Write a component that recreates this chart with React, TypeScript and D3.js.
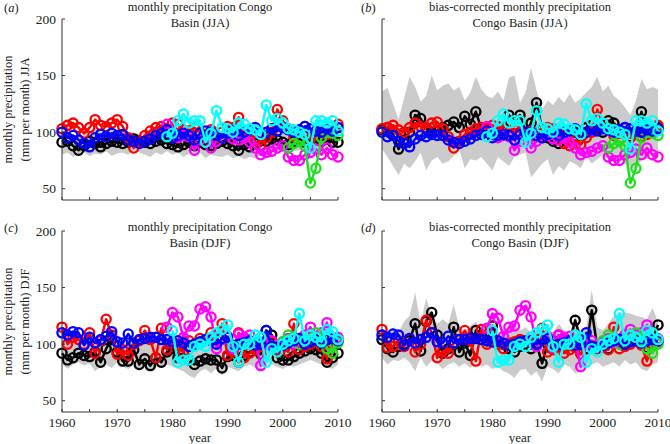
import React from "react";
import * as d3 from "d3";

// ---------- categories / ticks ----------
const YEAR_START = 1960;
const YEAR_END = 2010;
const X_TICKS = [1960, 1965, 1970, 1975, 1980, 1985, 1990, 1995, 2000, 2005, 2010];
const X_LABELS = [1960, 1970, 1980, 1990, 2000, 2010];
const Y_TICKS = [50, 100, 150, 200];

// series start years
const MAG_START = 1979;
const CYAN_START_JJA = 1979;
const CYAN_START_DJF = 1980;
const GREEN_START_JJA = 2001;
const GREEN_START_DJF = 2000;

// ---------- panel (a): JJA ----------
const aBandLo = [80,82,78,80,82,79,81,80,83,79, 81,82,80,84,82,80,78,82,80,83, 80,82,78,81,79,82,77,80,79,78, 80,77,79,76,78,77,80,78,82,84, 82,80,83,84,82,83,85,84,82,85, 83];
const aBandHi = [100,102,98,96,99,101,103,100,102,104, 102,101,99,100,98,101,103,104,102,103, 100,99,101,104,100,102,99,98,101,100, 99,97,100,98,96,99,101,103,104,102, 100,101,103,104,102,104,105,103,104,102, 103];
const aBlack = [91,92,88,84,88,92,90,87,90,92, 91,90,91,94,92,91,90,92,93,90, 89,87,89,91,88,91,89,88,90,92, 90,88,84,89,87,90,88,92,94,93, 91,89,92,94,91,93,95,92,94,91, 91];
const aRed = [103,106,108,104,99,104,111,106,105,108, 111,105,95,86,91,97,101,104,105,103, 108,107,102,101,104,100,97,102,95,100, 105,104,113,96,100,92,88,95,100,120, 110,103,96,100,105,94,100,95,98,100, 107];
const aBlue = [100,95,97,93,90,87,95,98,96,99, 97,98,93,92,90,92,94,97,99,102, 95,97,99,97,93,99,101,100,97,95, 99,101,97,100,102,104,99,100,103,101, 104,102,100,102,105,103,101,100,103,101, 104];
const aMagenta = [107,100,95,97,96,84,93,97,86,92, 95,98,94,93,95,91,86,80,82,83, 86,88,78,75,75,80,82,85,80,86, 80,78];
const aCyan = [96,99,110,116,108,110,110,91,99,119, 104,103,100,108,107,103,102,98,124,110, 112,108,103,102,100,98,86,110,110,108, 110,101];
const aGreen = [86,90,92,88,55,68,95,100,99,97];

// ---------- panel (b): bias-corrected JJA ----------
const bBandLo = [85,78,70,62,72,68,74,82,66,75, 78,72,74,79,84,68,76,75,78,72, 66,78,74,70,78,80,82,60,66,72, 76,62,70,66,74,72,68,78,72,76, 80,76,78,80,72,70,66,76,76,80, 80];
const bBandHi = [136,139,125,111,130,149,140,127,132,150, 137,141,143,137,140,128,135,149,138,132, 130,136,128,148,150,126,135,157,137,120, 128,124,131,126,134,126,130,135,140,149, 136,141,132,128,122,115,128,147,138,140, 138];
const bBlack = [102,104,98,85,93,100,115,112,103,100, 101,104,106,109,104,114,107,118,103,100, 98,100,104,115,110,115,100,108,126,103, 95,92,90,98,102,100,97,104,106,103, 100,110,108,102,98,96,100,118,103,100, 104];
const bRed = [103,104,106,102,100,104,108,105,104,108, 109,103,96,86,92,98,100,103,104,103, 106,105,101,100,103,100,97,101,96,99, 104,103,100,90,88,93,89,95,100,120, 108,102,97,99,104,95,100,96,98,100, 106];
const bBlue = [100,96,97,92,90,87,94,97,96,98, 97,97,93,91,90,92,94,97,98,101, 95,97,98,97,93,98,100,100,97,95, 98,100,97,100,101,103,99,100,102,101, 103,102,100,102,104,103,101,100,102,101, 103];
const bMagenta = [105,100,95,97,96,84,92,97,86,92, 95,97,94,93,95,91,86,80,82,83, 86,88,78,75,75,80,82,85,80,86, 80,78];
const bCyan = [96,99,110,116,108,110,110,91,99,119, 104,103,100,108,107,103,102,98,125,110, 112,108,103,102,100,98,85,110,110,108, 110,101];
const bGreen = [86,90,92,88,55,68,95,100,99,97];

// ---------- panel (c): DJF ----------
const cBandLo = [82,78,82,84,81,83,76,80,82,79, 84,80,78,82,77,80,76,80,79,82, 80,78,76,72,70,76,78,74,79,72, 80,78,76,80,82,79,78,84,82,80, 78,81,80,82,84,86,84,82,80,78, 82];
const cBandHi = [104,102,105,103,100,106,102,103,108,106, 102,100,104,101,103,104,105,103,104,102, 103,100,102,99,100,101,103,102,100,104, 104,100,101,103,102,101,100,110,106,100, 102,103,104,106,104,105,106,104,103,105, 104];
const cBlack = [92,86,88,92,90,89,93,84,96,104, 93,85,85,95,82,87,81,88,84,93, 96,88,92,86,82,85,87,86,86,79, 89,90,84,90,93,95,91,112,108,88, 86,86,89,92,94,96,95,92,84,88, 92];
const cRed = [115,100,106,104,100,110,92,103,122,108, 91,95,90,100,103,112,104,88,114,95, 102,100,92,103,100,105,104,110,105,118, 90,93,110,88,92,95,98,100,102,95, 97,93,118,95,98,100,104,98,87,100, 103];
const cBlue = [110,108,111,110,99,106,101,104,107,111, 102,101,109,101,104,105,106,106,104,104, 102,103,101,98,100,102,104,103,100,105, 106,99,100,101,103,99,100,112,98,97, 99,101,103,105,100,102,104,101,104,105, 103];
const cMagenta = [115,128,124,106,116,116,131,133,124,96, 104,107,96,109,106,108,102,81,100,103, 97,102,105,100,104,108,115,107,110,119, 105,106];
const cCyan = [112,84,86,86,98,100,98,106,110,113, 117,98,84,100,100,108,106,84,96,93, 100,103,105,127,103,108,106,102,113,111, 104];
const cGreen = [102,108,106,100,104,108,110,104,96,92,101];

// ---------- panel (d): bias-corrected DJF ----------
const dBandLo = [88,82,86,85,88,84,76,88,80,85, 83,78,82,84,80,83,79,84,80,82, 78,80,76,74,70,77,78,72,76,67, 80,78,74,82,80,74,76,80,82,84, 80,82,84,80,86,82,84,78,76,82, 84];
const dBandHi = [112,108,115,110,120,125,146,118,141,125, 118,122,118,135,115,112,116,120,113,118, 122,110,108,112,118,112,115,110,113,108, 112,110,118,112,108,125,110,115,148,115, 112,118,125,128,128,127,125,124,122,132, 120];
const dBlack = [104,96,93,98,100,103,118,94,120,128, 108,92,96,115,93,101,90,112,108,103, 116,102,100,96,93,98,101,96,100,83, 100,103,98,104,102,121,104,96,130,97, 99,96,102,104,100,103,106,101,97,104, 117];
const dRed = [113,97,98,103,98,105,93,100,121,110, 88,94,92,101,104,112,103,85,113,100, 102,100,96,101,102,104,102,106,104,114, 93,95,108,92,95,97,91,100,99,96, 97,95,115,96,98,100,104,99,85,100, 102];
const dBlue = [108,106,109,108,99,105,101,104,106,110, 102,101,107,101,104,104,105,105,104,103, 102,103,101,99,100,102,103,103,100,104, 105,99,100,101,103,99,100,110,98,97, 99,101,103,104,100,102,103,101,103,104, 103];
const dMagenta = [114,127,123,107,115,116,130,134,124,98, 104,107,97,108,106,107,103,80,100,103, 97,102,105,101,104,108,113,107,110,117, 104,105];
const dCyan = [112,84,86,86,98,100,98,106,110,113, 117,98,84,100,100,108,106,84,96,93, 100,103,105,127,103,108,106,102,112,110, 104];
const dGreen = [103,108,106,100,104,108,110,104,96,92,100];

// ---------- styles ----------
const FONT = "'Liberation Serif', 'Times New Roman', serif";
const COL = {
  black: "#000000",
  red: "#ff0000",
  magenta: "#ff00ff",
  green: "#1fe01f",
  blue: "#0000ff",
  cyan: "#00ffff",
  band: "#cbcbcb",
};

type Series = { values: number[]; start: number; color: string };

type PanelProps = {
  x0: number;
  y0: number;
  w: number;
  h: number;
  letter: string;
  title: string[];
  titleY: number[];
  letterY: number;
  letterX: number;
  showY: boolean;
  showX: boolean;
  yLabel?: string[];
  bandLo: number[];
  bandHi: number[];
  series: Series[];
};

function Panel(p: PanelProps) {
  const x = d3.scaleLinear().domain([YEAR_START, YEAR_END]).range([p.x0, p.x0 + p.w]);
  const y = d3.scaleLinear().domain([40, 200]).range([p.y0 + p.h, p.y0]);
  const area = d3
    .area<number>()
    .x((_, i) => x(YEAR_START + i))
    .y0((_, i) => y(p.bandLo[i]))
    .y1((_, i) => y(p.bandHi[i]));
  const cx = p.x0 + p.w / 2;
  const cy = p.y0 + p.h / 2;
  return (
    <g>
      <path d={area(p.bandLo) || ""} fill={COL.band} stroke="none" />
      {p.series.map((s, si) => {
        const line = d3
          .line<number>()
          .x((_, i) => x(s.start + i))
          .y((d) => y(d));
        return (
          <g key={si}>
            <path d={line(s.values) || ""} fill="none" stroke={s.color} strokeWidth={2.5} strokeLinejoin="round" />
            {s.values.map((v, i) => (
              <circle key={i} cx={x(s.start + i)} cy={y(v)} r={4.6} fill="none" stroke={s.color} strokeWidth={2.3} />
            ))}
          </g>
        );
      })}
      {/* axes */}
      <line x1={p.x0} x2={p.x0} y1={p.y0} y2={p.y0 + p.h} stroke="#333" strokeWidth={1} />
      <line x1={p.x0} x2={p.x0 + p.w} y1={p.y0 + p.h} y2={p.y0 + p.h} stroke="#333" strokeWidth={1} />
      {X_TICKS.map((t) => (
        <line key={t} x1={x(t)} x2={x(t)} y1={p.y0 + p.h} y2={p.y0 + p.h - 3} stroke="#333" strokeWidth={1} />
      ))}
      {Y_TICKS.map((t) => (
        <line key={t} x1={p.x0} x2={p.x0 + 3} y1={y(t)} y2={y(t)} stroke="#333" strokeWidth={1} />
      ))}
      {p.showY &&
        Y_TICKS.map((t) => (
          <text key={t} x={p.x0 - 6} y={y(t) + 4.5} textAnchor="end" fontSize={13.5} fontFamily={FONT} fill="#222">
            {t}
          </text>
        ))}
      {p.showX &&
        X_LABELS.map((t) => (
          <text key={t} x={x(t)} y={p.y0 + p.h + 15} textAnchor="middle" fontSize={13.5} fontFamily={FONT} fill="#222">
            {t}
          </text>
        ))}
      {p.showX && (
        <text x={cx} y={p.y0 + p.h + 30} textAnchor="middle" fontSize={13} fontFamily={FONT} fill="#222">
          year
        </text>
      )}
      {p.title.map((t, i) => (
        <text key={i} x={cx} y={p.titleY[i]} textAnchor="middle" fontSize={12.5} fontFamily={FONT} fill="#222">
          {t}
        </text>
      ))}
      <text x={p.letterX} y={p.letterY} fontSize={12.5} fontFamily={FONT} fill="#222">
        (<tspan fontStyle="italic">{p.letter}</tspan>)
      </text>
      {p.yLabel &&
        p.yLabel.map((t, i) => (
          <text
            key={i}
            transform={`translate(${12 + i * 17}, ${cy}) rotate(-90)`}
            textAnchor="middle"
            fontSize={12.5}
            fontFamily={FONT}
            fill="#222"
          >
            {t}
          </text>
        ))}
    </g>
  );
}

function mk(black: number[], red: number[], mag: number[], green: number[], greenStart: number, blue: number[], cyan: number[], cyanStart: number): Series[] {
  return [
    { values: black, start: YEAR_START, color: COL.black },
    { values: red, start: YEAR_START, color: COL.red },
    { values: mag, start: MAG_START, color: COL.magenta },
    { values: green, start: greenStart, color: COL.green },
    { values: blue, start: YEAR_START, color: COL.blue },
    { values: cyan, start: cyanStart, color: COL.cyan },
  ];
}

export default function App() {
  const W = 276;
  const H = 181;
  return (
    <svg width={670} height={444} style={{ position: "absolute", left: 0, top: 0, background: "#fff" }}>
      <rect x={0} y={0} width={670} height={444} fill="#fff" />
      <Panel
        x0={62} y0={19} w={W} h={H}
        letter="a" letterX={4} letterY={12}
        title={["monthly precipitation Congo", "Basin (JJA)"]} titleY={[11, 27]}
        showY showX={false}
        yLabel={["monthly precipitation", "(mm per month) JJA"]}
        bandLo={aBandLo} bandHi={aBandHi}
        series={mk(aBlack, aRed, aMagenta, aGreen, GREEN_START_JJA, aBlue, aCyan, CYAN_START_JJA)}
      />
      <Panel
        x0={382} y0={19} w={W} h={H}
        letter="b" letterX={361} letterY={12}
        title={["bias-corrected monthly precipitation", "Congo Basin (JJA)"]} titleY={[11, 27]}
        showY={false} showX={false}
        bandLo={bBandLo} bandHi={bBandHi}
        series={mk(bBlack, bRed, bMagenta, bGreen, GREEN_START_JJA, bBlue, bCyan, CYAN_START_JJA)}
      />
      <Panel
        x0={62} y0={231} w={W} h={H}
        letter="c" letterX={4} letterY={232}
        title={["monthly precipitation Congo", "Basin (DJF)"]} titleY={[231, 247]}
        showY showX
        yLabel={["monthly precipitation", "(mm per month) DJF"]}
        bandLo={cBandLo} bandHi={cBandHi}
        series={mk(cBlack, cRed, cMagenta, cGreen, GREEN_START_DJF, cBlue, cCyan, CYAN_START_DJF)}
      />
      <Panel
        x0={382} y0={231} w={W} h={H}
        letter="d" letterX={361} letterY={232}
        title={["bias-corrected monthly precipitation", "Congo Basin (DJF)"]} titleY={[231, 247]}
        showY={false} showX
        bandLo={dBandLo} bandHi={dBandHi}
        series={mk(dBlack, dRed, dMagenta, dGreen, GREEN_START_DJF, dBlue, dCyan, CYAN_START_DJF)}
      />
    </svg>
  );
}
